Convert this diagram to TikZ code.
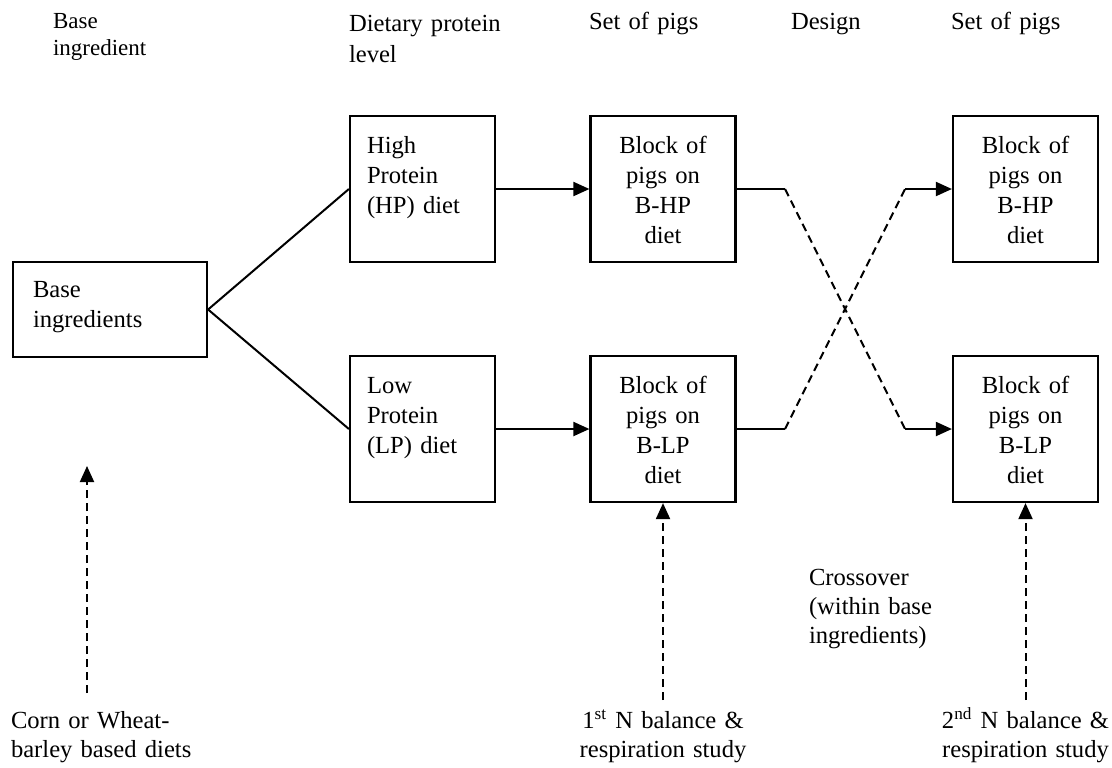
\documentclass[tikz,border=0pt]{standalone}
\usepackage{fontspec}
\setmainfont{Liberation Serif}
\usetikzlibrary{arrows.meta}

\tikzset{
  pbox/.style={draw, line width=1.1pt, inner xsep=8.5pt, inner ysep=0pt,
    text width=55.5pt, text height=18.5pt, text depth=54.5pt, align=left},
  basebox/.style={draw, line width=1.1pt, inner xsep=10pt, inner ysep=0pt,
    text width=77pt, text height=17.5pt, text depth=30pt, align=left},
  head/.style={anchor=base west, inner sep=0pt, text width=100pt, align=left},
  note/.style={anchor=base, inner sep=0pt, text width=95pt,
    font=\fontsize{12.3}{14.5}\selectfont},
  dashline/.style={dash pattern=on 4pt off 2.5pt}
}

\begin{document}
\begin{tikzpicture}[x=.5pt,y=-.5pt,line width=1pt,
    >={Triangle[length=8pt,width=7pt]},
    font=\fontsize{12.3}{15}\selectfont]
    \useasboundingbox (0,0) rectangle (1112,767);
    % column headings
    \node[head,font=\fontsize{11.5}{13.5}\selectfont] (hbase) at (52,28) {Base\\ingredient};
    \node[head,font=\fontsize{12.3}{15.5}\selectfont] (hlevel) at (348,31) {Dietary protein\\level};
    \node[head] (hset1) at (588,29) {Set of pigs};
    \node[head] (hdesign) at (790,29) {Design};
    \node[head] (hset2) at (950,29) {Set of pigs};
    % boxes
    \node[basebox] (base) at (110,309.5) {Base\\ingredients};
    \node[pbox] (hp) at (422.5,189) {High\\Protein\\(HP) diet};
    \node[pbox] (lp) at (422.5,429) {Low\\Protein\\(LP) diet};
    \node[pbox,align=center] (bhp) at (663,189) {Block of\\pigs on\\B-HP\\diet};
    \node[pbox,align=center] (blp) at (663,429) {Block of\\pigs on\\B-LP\\diet};
    \node[pbox,align=center] (rhp) at (1025.5,189) {Block of\\pigs on\\B-HP\\diet};
    \node[pbox,align=center] (rlp) at (1025.5,429) {Block of\\pigs on\\B-LP\\diet};
    \draw (base.east) -- (hp.west);
    \draw (base.east) -- (lp.west);
    \draw[->] (hp) -- (bhp);
    \draw[->] (lp) -- (blp);
    % crossover
    \coordinate (xa) at (785,189);
    \coordinate (xb) at (905,189);
    \coordinate (xc) at (785,429);
    \coordinate (xd) at (905,429);
    \draw (bhp) -- (xa);
    \draw[dashline] (xa) -- (xd);
    \draw[->] (xd) -- (rlp);
    \draw (blp) -- (xc);
    \draw[dashline] (xc) -- (xb);
    \draw[->] (xb) -- (rhp);
    \node[note,anchor=base west,align=left] (cross) at (808,585) {Crossover\\(within base\\ingredients)};
    % studies
    \node[note,anchor=base west,align=left] (corn) at (10,728) {Corn or Wheat-\\barley based diets};
    \node[note,align=center] (study1) at (663,728) {1\textsuperscript{st} N balance \&\\respiration study};
    \node[note,align=center] (study2) at (1025.5,728) {2\textsuperscript{nd} N balance \&\\respiration study};
    \coordinate (c0) at (87,693);
    \coordinate (c0top) at (87,466);
    \coordinate (s1) at (663,700);
    \coordinate (s2) at (1025.5,700);
    \draw[dashline,->] (c0) -- (c0top);
    \draw[dashline,->] (s1) -- (blp.south);
    \draw[dashline,->] (s2) -- (rlp.south);
\end{tikzpicture}
\end{document}
